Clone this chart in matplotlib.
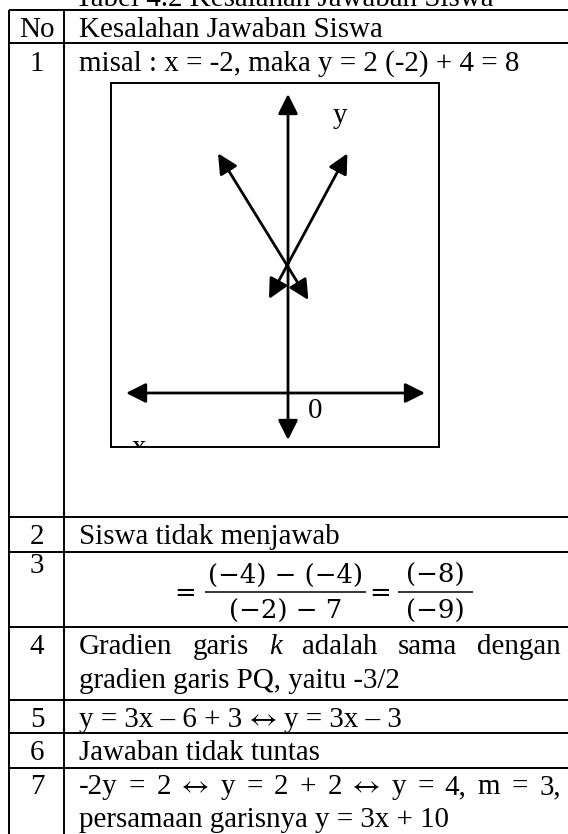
import matplotlib
matplotlib.use('Agg')
import matplotlib.pyplot as plt

# ---------------- data ----------------
caption = 'Tabel 4.2 Kesalahan Jawaban Siswa'
header = ['No', 'Kesalahan Jawaban Siswa']
row_numbers = ['1', '2', '3', '4', '5', '6', '7']
row1_text = 'misal : x = -2, maka y = 2 (-2) + 4 = 8'
row2_text = 'Siswa tidak menjawab'
row3_numerators = ['(−4) − (−4)', '(−8)']
row3_denominators = ['(−2) − 7', '(−9)']
row4_line1 = ['Gradien', 'garis', 'k', 'adalah', 'sama', 'dengan']
row4_line2 = 'gradien garis PQ, yaitu -3/2'
row5_parts = ['y = 3x – 6 + 3', '↔', 'y = 3x – 3']
row6_text = 'Jawaban tidak tuntas'
row7_line1 = ['-2y', '=', '2', '↔', 'y', '=', '2', '+', '2', '↔',
              'y', '=', '4,', 'm', '=', '3,']
row7_line2 = 'persamaan garisnya y = 3x + 10'

# student's sketch (grid units, origin at axes crossing)
x_axis_span = [-8.1, 6.85]
y_axis_span = [-2.35, 14.95]
line_a = [(-3.5, 11.98), (1.02, 4.65)]
line_b = [(2.97, 11.98), (-0.95, 4.70)]
label_y = (2.25, 13.5)
label_0 = (1.0, -1.25)
label_x = (-7.8, -3.1)

# ---------------- layout ----------------
W, H = 568, 834
fig = plt.figure(figsize=(W / 100, H / 100), dpi=100)
ax = fig.add_axes([0, 0, 1, 1])
ax.set_xlim(0, W)
ax.set_ylim(H, 0)
ax.axis('off')

FAM = ['Liberation Serif', 'DejaVu Serif']
ARROW_FAM = ['STIXGeneral', 'DejaVu Sans']
FS = 29 * 0.72
MFS = 26 * 0.72
LW = 1.4

X_LEFT, X_DIV, X_RIGHT = 9, 64, W + 5
TXT_L, TXT_R = 79, 561
NUM_C = 37
row_edges = [10, 43, 517, 552, 627, 700, 733, 768]

for y in row_edges:
    ax.plot([X_LEFT, X_RIGHT], [y, y], color='black', lw=LW, solid_capstyle='butt')
for x in (X_LEFT, X_DIV):
    ax.plot([x, x], [row_edges[0], H + 5], color='black', lw=LW, solid_capstyle='butt')


def txt(x, y, s, ha='left', **kw):
    kw.setdefault('family', ARROW_FAM if s == '↔' else FAM)
    kw.setdefault('fontsize', FS)
    return ax.text(x, y, s, ha=ha, va='baseline', color='black', **kw)


renderer = fig.canvas.get_renderer()


def width_of(o):
    return o.get_window_extent(renderer).width


def justify(tokens, y, x0=TXT_L, x1=TXT_R, italic=()):
    objs = []
    for tok in tokens:
        st = 'italic' if tok in italic else 'normal'
        objs.append(txt(0, y, tok, style=st))
    widths = [width_of(o) for o in objs]
    gap = (x1 - x0 - sum(widths)) / (len(objs) - 1)
    x = x0
    for o, w in zip(objs, widths):
        o.set_x(x)
        x += w + gap


def run(parts, y, x0=TXT_L, gap=7.5):
    x = x0
    for p in parts:
        o = txt(x, y, p)
        x += width_of(o) + gap


# caption (clipped at top)
txt(284, 6, caption, ha='center')

# header
txt(NUM_C, 37, header[0], ha='center')
txt(TXT_L, 37, header[1])

# numbers
num_baselines = [71, 544, 573, 654, 727, 760, 794]
for n, yb in zip(row_numbers, num_baselines):
    txt(NUM_C, yb, n, ha='center')

# row contents
txt(TXT_L, 71, row1_text)
txt(TXT_L, 544, row2_text)

# row 3 fraction
MF = ['DejaVu Serif']
eq_x = [185, 380.5]
bars = [(205, 366), (398, 473)]
for ex in eq_x:
    txt(ex, 601, '=', ha='center', family=MF, fontsize=MFS)
for (b0, b1), num, den in zip(bars, row3_numerators, row3_denominators):
    c = (b0 + b1) / 2
    ax.plot([b0, b1], [592, 592], color='black', lw=1.1, solid_capstyle='butt')
    txt(c, 583, num, ha='center', family=MF, fontsize=MFS)
    txt(c, 619, den, ha='center', family=MF, fontsize=MFS)

justify(row4_line1, 654, italic=('k',))
txt(TXT_L, 688, row4_line2)
run(row5_parts, 727)
txt(TXT_L, 760, row6_text)
justify(row7_line1, 794)
txt(TXT_L, 827, row7_line2)

# ---------------- sketch graph ----------------
gx0, gx1, gy0, gy1 = 111, 439, 83, 447
unit, ox, oy = 20.0, 288, 393
gax = fig.add_axes([gx0 / W, 1 - gy1 / H, (gx1 - gx0) / W, (gy1 - gy0) / H])
gax.set_xlim((gx0 - ox) / unit, (gx1 - ox) / unit)
gax.set_ylim((oy - gy1) / unit, (oy - gy0) / unit)
gax.set_xticks([])
gax.set_yticks([])
gax.set_facecolor('white')
for sp in gax.spines.values():
    sp.set_linewidth(LW)
    sp.set_color('black')

arrow = dict(arrowstyle='<|-|>,head_length=0.6,head_width=0.3', color='black',
             lw=2.0, mutation_scale=20, shrinkA=0, shrinkB=0)
gax.annotate('', xy=(x_axis_span[1], 0), xytext=(x_axis_span[0], 0), arrowprops=arrow)
gax.annotate('', xy=(0, y_axis_span[1]), xytext=(0, y_axis_span[0]), arrowprops=arrow)
for seg in (line_a, line_b):
    gax.annotate('', xy=seg[0], xytext=seg[1], arrowprops=arrow)

gax.text(*label_y, 'y', ha='left', va='baseline', family=FAM, fontsize=FS)
gax.text(*label_0, '0', ha='left', va='baseline', family=FAM, fontsize=FS)
gax.text(*label_x, 'x', ha='left', va='baseline', family=FAM, fontsize=FS, clip_on=True)

fig.savefig('out.png', dpi=100)
